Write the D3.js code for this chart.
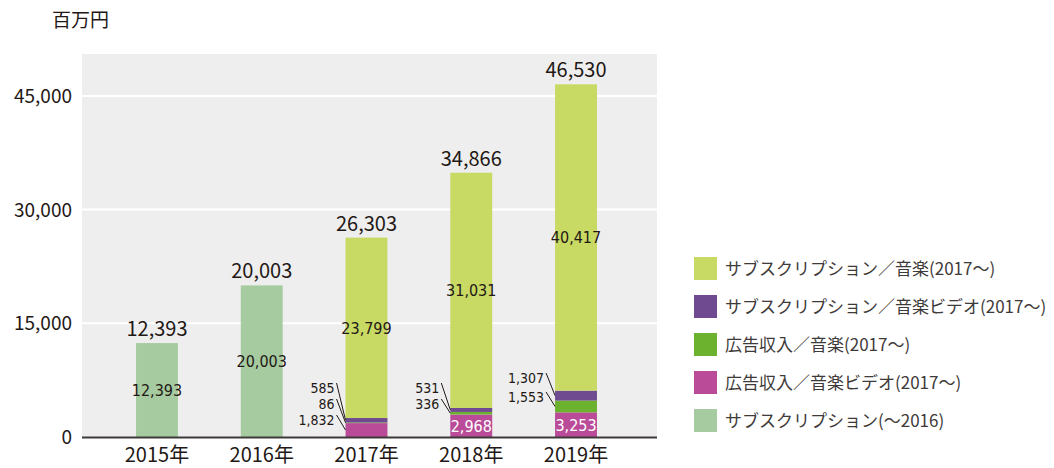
<!DOCTYPE html>
<html>
<head>
<meta charset="utf-8">
<script src="https://cdn.jsdelivr.net/npm/d3@7"></script>
<style>
  body { margin: 0; background: #fff; }
  text { fill: #231815; }
</style>
</head>
<body>
<div id="chart"></div>
<script>
// Data
const years = ['2015年', '2016年', '2017年', '2018年', '2019年'];
const subOld = [12393, 20003, 0, 0, 0];
const adVideo = [0, 0, 1832, 2968, 3253];
const adMusic = [0, 0, 86, 336, 1553];
const subVideo = [0, 0, 585, 531, 1307];
const subMusic = [0, 0, 23799, 31031, 40417];
const totals = [12393, 20003, 26303, 34866, 46530];
const yTicks = [0, 15000, 30000, 45000];
const seriesNames = [
    'サブスクリプション／音楽(2017〜)',
    'サブスクリプション／音楽ビデオ(2017〜)',
    '広告収入／音楽(2017〜)',
    '広告収入／音楽ビデオ(2017〜)',
    'サブスクリプション(〜2016)'
];

const colors = {
    subOld: '#a6cba0',
    adVideo: '#b94b98',
    adMusic: '#6cb22e',
    subVideo: '#6f4a90',
    subMusic: '#c8d964'
};

const width = 1054;
const height = 468;
const margin = { top: 54, right: 397, bottom: 31, left: 82 };
const jpFont = '"Noto Sans CJK JP", "Noto Sans", sans-serif';
const narrowFont = '"Liberation Sans Narrow", "DejaVu Sans Condensed", sans-serif';

const svg = d3.select('#chart').append('svg')
    .attr('width', width)
    .attr('height', height);

// Scales
const xScale = d3.scaleBand()
    .domain(years)
    .range([104.6, 628.4])
    .paddingInner(0.6)
    .paddingOuter(0.3);

const yScale = d3.scaleLinear()
    .domain([0, 50530])
    .range([height - margin.bottom, margin.top]);

// Plot background
svg.append('rect')
    .attr('x', margin.left)
    .attr('y', margin.top)
    .attr('width', width - margin.right - margin.left)
    .attr('height', height - margin.bottom - margin.top)
    .attr('fill', '#eeeeee');

// Gridlines
svg.selectAll('.grid')
    .data(yTicks.filter(d => d > 0))
    .enter().append('line')
    .attr('x1', margin.left)
    .attr('x2', width - margin.right)
    .attr('y1', d => yScale(d))
    .attr('y2', d => yScale(d))
    .attr('stroke', '#fff')
    .attr('stroke-width', 2);

// Stack data
const keys = ['subOld', 'adVideo', 'adMusic', 'subVideo', 'subMusic'];
const rows = years.map((y, i) => ({
    year: y,
    subOld: subOld[i],
    adVideo: adVideo[i],
    adMusic: adMusic[i],
    subVideo: subVideo[i],
    subMusic: subMusic[i]
}));
const stacked = d3.stack().keys(keys)(rows);

svg.selectAll('.layer')
    .data(stacked)
    .enter().append('g')
    .attr('fill', d => colors[d.key])
    .selectAll('rect')
    .data(d => d)
    .enter().append('rect')
    .attr('x', d => xScale(d.data.year))
    .attr('y', d => yScale(d[1]))
    .attr('width', xScale.bandwidth())
    .attr('height', d => yScale(d[0]) - yScale(d[1]));

// Axis line
svg.append('line')
    .attr('x1', margin.left)
    .attr('x2', width - margin.right)
    .attr('y1', yScale(0) + 0.5)
    .attr('y2', yScale(0) + 0.5)
    .attr('stroke', '#3e3a39')
    .attr('stroke-width', 2);

// Y axis labels
svg.selectAll('.ytick')
    .data(yTicks)
    .enter().append('text')
    .attr('x', 72)
    .attr('y', d => yScale(d) + 7)
    .style('text-anchor', 'end')
    .style('font-family', jpFont)
    .style('font-size', '19px')
    .text(d => d3.format(',')(d));

svg.append('text')
    .attr('x', 52)
    .attr('y', 27)
    .style('font-family', jpFont)
    .style('font-size', '19px')
    .text('百万円');

// X axis labels
svg.selectAll('.xtick')
    .data(years)
    .enter().append('text')
    .attr('x', d => xScale(d) + xScale.bandwidth() / 2)
    .attr('y', 462)
    .style('text-anchor', 'middle')
    .style('font-family', jpFont)
    .style('font-size', '20px')
    .text(d => d);

// Totals
svg.selectAll('.total')
    .data(totals)
    .enter().append('text')
    .attr('x', (d, i) => xScale(years[i]) + xScale.bandwidth() / 2)
    .attr('y', d => yScale(d) - 7)
    .style('text-anchor', 'middle')
    .style('font-family', jpFont)
    .style('font-size', '20px')
    .text(d => d3.format(',')(d));

// Inside labels (big segments)
const fmt = d3.format(',');
const inside = [];
stacked.forEach(layer => {
    layer.forEach((d, i) => {
        const v = d[1] - d[0];
        if (layer.key === 'subOld' && v > 0) inside.push({ i, d, v, white: false });
        if (layer.key === 'subMusic' && v > 0) inside.push({ i, d, v, white: false });
        if (layer.key === 'adVideo' && v > 2500) inside.push({ i, d, v, white: true });
    });
});

svg.selectAll('.inside')
    .data(inside)
    .enter().append('text')
    .attr('x', d => xScale(years[d.i]) + xScale.bandwidth() / 2)
    .attr('y', d => (yScale(d.d[0]) + yScale(d.d[1])) / 2 + 6)
    .style('text-anchor', 'middle')
    .style('font-family', narrowFont)
    .style('font-size', '16px')
    .style('fill', d => d.white ? '#fff' : '#231815')
    .text(d => fmt(d.v));

// Outside labels with leader lines
const callouts = [
    { i: 2, key: 'subVideo', ty: 393 },
    { i: 2, key: 'adMusic', ty: 409 },
    { i: 2, key: 'adVideo', ty: 425 },
    { i: 3, key: 'subVideo', ty: 393 },
    { i: 3, key: 'adMusic', ty: 409 },
    { i: 4, key: 'subVideo', ty: 383 },
    { i: 4, key: 'adMusic', ty: 402 }
];
callouts.forEach(c => {
    const layer = stacked.find(s => s.key === c.key);
    const seg = layer[c.i];
    const v = seg[1] - seg[0];
    const bx = xScale(years[c.i]);
    const segMid = (yScale(seg[0]) + yScale(seg[1])) / 2;
    svg.append('text')
        .attr('x', bx - 11)
        .attr('y', c.ty)
        .style('text-anchor', 'end')
        .style('font-family', narrowFont)
        .style('font-size', '14px')
        .text(fmt(v));
    svg.append('line')
        .attr('x1', bx - 9)
        .attr('y1', c.ty - 10)
        .attr('x2', bx)
        .attr('y2', segMid)
        .attr('stroke', '#231815')
        .attr('stroke-width', 1);
});

// Legend
const legendColors = [colors.subMusic, colors.subVideo, colors.adMusic, colors.adVideo, colors.subOld];
const legend = svg.append('g')
    .attr('transform', 'translate(694, 257)');

legend.selectAll('rect')
    .data(seriesNames)
    .enter().append('rect')
    .attr('x', 0)
    .attr('y', (d, i) => i * 38)
    .attr('width', 23)
    .attr('height', 23)
    .attr('fill', (d, i) => legendColors[i]);

legend.selectAll('text')
    .data(seriesNames)
    .enter().append('text')
    .attr('x', 31)
    .attr('y', (d, i) => i * 38 + 18)
    .style('font-family', jpFont)
    .style('font-size', '17px')
    .style('fill', '#3e3a39')
    .text(d => d);
</script>
</body>
</html>
